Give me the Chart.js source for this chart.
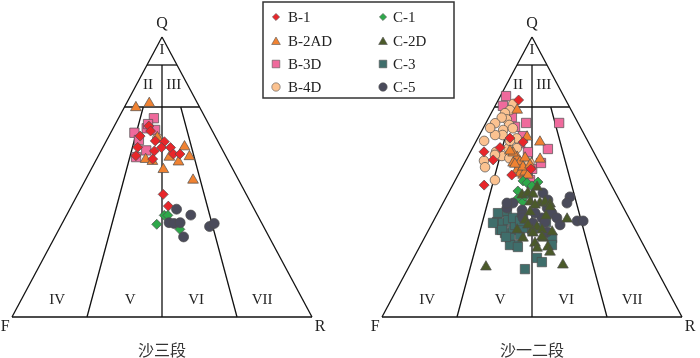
<!DOCTYPE html>
<html>
<head>
<meta charset="utf-8">
<script src="https://cdn.jsdelivr.net/npm/chart.js@4.4.1/dist/chart.umd.min.js"></script>
<style>
  html, body { margin: 0; padding: 0; background: #fff; }
  #wrap { width: 700px; height: 358px; }
</style>
</head>
<body>
<div id="wrap"><canvas id="qfr" width="700" height="358"></canvas></div>
<script>
// Ternary values, each point is [Q, R] in %, F = 100 - Q - R
// 沙三段 (left panel)
const B1_S3 = [[68.2,11.5],[66.4,13.0],[64.6,10.4],[60.6,11.6],[57.6,12.5],[62.9,16.3],[62.6,19.5],[60.5,19.6],[59.3,17.8],[60.5,22.6],[58.2,24.7],[58.2,26.9],[56.4,18.7],[43.8,28.5],[39.6,32.3]];
const B2AD_S3 = [[74.8,3.9],[76.3,7.6],[56.3,16.4],[55.6,19.0],[64.1,16.4],[57.1,23.9],[55.4,27.8],[60.8,27.1],[57.3,30.5],[52.7,24.1],[48.9,35.9]];
const B3D_S3 = [[71.0,11.8],[67.4,11.2],[66.8,14.3],[65.8,7.9],[63.2,10.7],[59.5,15.0],[57.1,12.8],[68.9,10.9]];
const B4D_S3 = [[63.9,16.5]];
const C1_S3 = [[36.3,32.6],[36.3,33.8],[33.1,31.7],[31.3,40.3]];
const C2D_S3 = [];
const C3_S3 = [];
const C5_S3 = [[38.5,35.6],[36.4,41.4],[33.7,35.5],[33.4,37.3],[33.7,39.2],[28.6,42.9],[32.3,49.7],[33.4,50.7]];

// 沙一二段 (right panel)
const B1_S12 = [[77.5,6.8],[60.5,9.1],[59.0,4.5],[56.1,9.0],[50.7,17.9],[47.1,10.5],[62.5,15.8],[52.9,23.2],[63.9,10.7]];
const B2AD_S12 = [[62.5,21.4],[64.3,16.2],[56.4,24.5],[73.9,8.1],[57.1,16.5],[55.0,16.2],[55.4,18.3],[56.8,19.3],[58.6,14.4],[50.7,21.7],[52.5,18.8],[59.3,13.0],[51.4,20.3],[51.8,21.8],[50.7,23.3],[53.6,20.2],[54.6,17.0],[54.3,22.2]];
const B3D_S12 = [[78.9,1.9],[75.4,2.6],[69.3,13.4],[69.3,24.4],[60.0,25.3],[58.9,19.2],[52.9,23.6],[55.0,25.5],[67.9,10.4],[62.1,15.0],[64.6,14.7],[71.4,7.6],[48.9,24.9]];
const B4D_S12 = [[76.1,5.7],[73.9,5.7],[72.8,4.6],[70.6,6.3],[71.2,4.3],[68.6,8.1],[69.2,3.1],[66.8,7.0],[67.4,9.9],[65.0,7.7],[65.0,5.2],[62.9,2.6],[59.0,8.5],[57.5,11.2],[60.3,12.0],[63.8,13.0],[60.3,14.8],[56.7,14.1],[55.8,6.1],[53.5,7.6],[53.5,19.0],[55.1,21.6],[48.9,13.2],[57.9,8.7],[62.9,11.2],[67.5,2.3]];
const C1_S12 = [[48.6,22.7],[47.9,24.4],[48.2,27.9],[45.0,22.8],[42.1,24.0],[41.1,26.5],[46.8,26.6],[43.2,26.1]];
const C2D_S12 = [[43.6,24.9],[44.3,26.5],[43.9,28.4],[46.4,28.5],[41.1,28.8],[40.7,32.3],[41.1,33.8],[40.4,35.8],[40.0,31.0],[39.3,36.4],[37.5,30.6],[35.0,44.2],[34.6,30.4],[32.1,35.6],[31.1,37.8],[31.1,34.5],[30.4,41.5],[28.2,39.6],[30.0,35.3],[28.2,32.9],[26.4,37.8],[28.6,39.0],[25.0,42.8],[23.2,44.4],[24.6,39.4],[31.1,29.5],[17.9,25.7],[18.6,51.0],[36.1,36.6],[32.9,32.2]];
const C3_S12 = [[37.5,22.9],[37.1,20.1],[33.9,21.4],[31.1,23.8],[30.0,26.0],[31.1,28.1],[28.2,28.6],[25.7,32.2],[33.6,23.5],[34.6,24.7],[32.9,27.9],[29.3,31.4],[31.8,31.1],[31.1,34.5],[31.8,36.1],[30.0,40.3],[28.2,42.6],[25.7,43.8],[21.1,41.1],[19.6,43.5],[17.1,39.1],[33.6,20.2],[25.7,29.8],[25.0,32.8],[31.1,24.5],[28.6,27.0],[35.4,26.0],[34.3,28.9],[33.9,37.7]];
const C5_S12 = [[44.3,31.5],[41.8,34.4],[38.9,35.6],[42.9,41.2],[40.7,41.3],[40.7,23.3],[38.9,22.2],[38.2,27.6],[36.4,28.5],[35.4,29.3],[37.1,38.1],[35.4,40.6],[35.4,35.6],[33.6,33.5],[33.9,37.4],[34.3,47.9],[34.3,49.9],[30.4,39.8],[37.1,32.5],[32.9,42.9],[40.7,21.3]];

const PANEL_TITLES = ['沙三段', '沙一二段'];
const ROMAN = ['I', 'II', 'III', 'IV', 'V', 'VI', 'VII'];
const CORNERS = ['Q', 'F', 'R'];

// Folk-style field boundaries, [Q, R] endpoints
const BOUNDARIES = [
    [[0, 0], [0, 100]],
    [[0, 100], [100, 0]],
    [[100, 0], [0, 0]],
    [[90, 0], [90, 10]],
    [[75, 0], [75, 25]],
    [[90, 5], [0, 50]],
    [[75, 6.25], [0, 25]],
    [[75, 18.75], [0, 75]]
];

// where the right triangle sits, in the same units as the left one
const PANEL_SHIFT = 123.333;

function tern(panel, q, r) {
    return { x: panel * PANEL_SHIFT + r + q / 2, y: q };
}

const series = [
    { label: 'B-1',   s3: B1_S3,   s12: B1_S12,   shape: 'rectRot',  r: 5.0, color: '#e8262a', col: 0, order: 4 },
    { label: 'B-2AD', s3: B2AD_S3, s12: B2AD_S12, shape: 'triangle', r: 6.2, color: '#f08232', col: 0, order: 5 },
    { label: 'B-3D',  s3: B3D_S3,  s12: B3D_S12,  shape: 'rect',     r: 6.6, color: '#ef6a9c', col: 0, order: 7 },
    { label: 'B-4D',  s3: B4D_S3,  s12: B4D_S12,  shape: 'circle',   r: 4.8, color: '#fbc290', col: 0, order: 6 },
    { label: 'C-1',   s3: C1_S3,   s12: C1_S12,   shape: 'rectRot',  r: 5.0, color: '#2ea84a', col: 1, order: 3 },
    { label: 'C-2D',  s3: C2D_S3,  s12: C2D_S12,  shape: 'triangle', r: 6.2, color: '#4b5a2a', col: 1, order: 0 },
    { label: 'C-3',   s3: C3_S3,   s12: C3_S12,   shape: 'rect',     r: 6.6, color: '#3f6e6b', col: 1, order: 2 },
    { label: 'C-5',   s3: C5_S3,   s12: C5_S12,   shape: 'circle',   r: 5.0, color: '#4a4b5b', col: 1, order: 1 }
];

const datasets = [];

[0, 1].forEach(panel => {
    BOUNDARIES.forEach(seg => {
        datasets.push({
            data: seg.map(p => tern(panel, p[0], p[1])),
            showLine: true,
            borderColor: '#111',
            borderWidth: 1.3,
            pointRadius: 0,
            order: 10
        });
    });
});

series.forEach(s => {
    datasets.push({
        label: s.label,
        data: s.s3.map(p => tern(0, p[0], p[1])).concat(s.s12.map(p => tern(1, p[0], p[1]))),
        pointStyle: s.shape,
        pointRadius: s.r,
        backgroundColor: s.color,
        borderColor: '#4d4d4d',
        borderWidth: 0.7,
        order: s.order
    });
});

function drawMarker(ctx, shape, x, y, r, fill) {
    ctx.beginPath();
    if (shape === 'circle') {
        ctx.arc(x, y, r, 0, Math.PI * 2);
    } else if (shape === 'rect') {
        ctx.rect(x - r, y - r, 2 * r, 2 * r);
    } else if (shape === 'rectRot') {
        ctx.moveTo(x - r, y); ctx.lineTo(x, y - r); ctx.lineTo(x + r, y); ctx.lineTo(x, y + r);
        ctx.closePath();
    } else {
        const h = r * 0.866;
        ctx.moveTo(x, y - r); ctx.lineTo(x + h, y + r / 2); ctx.lineTo(x - h, y + r / 2);
        ctx.closePath();
    }
    ctx.fillStyle = fill;
    ctx.fill();
    ctx.lineWidth = 0.6;
    ctx.strokeStyle = '#555';
    ctx.stroke();
}

const decor = {
    id: 'decor',
    beforeDatasetsDraw(chart) {
        const ctx = chart.ctx;
        const xs = chart.scales.x, ys = chart.scales.y;
        const px = (panel, q, r) => {
            const t = tern(panel, q, r);
            return [xs.getPixelForValue(t.x), ys.getPixelForValue(t.y)];
        };
        ctx.save();
        ctx.fillStyle = '#222';
        ctx.textAlign = 'center';
        ctx.textBaseline = 'middle';
        [0, 1].forEach(panel => {
            ctx.font = '15px "Liberation Serif", serif';
            const spots = [[95.5, 2.25], [82.9, 3.9], [82.9, 12.5], [6.1, 12], [6.1, 36.3], [6.1, 58.3], [6.1, 80.3]];
            spots.forEach((s, i) => {
                const [x, y] = px(panel, s[0], s[1]);
                ctx.fillText(ROMAN[i], x, y);
            });
            ctx.font = '16px "Liberation Serif", serif';
            let p = px(panel, 104.6, -2.3);
            ctx.fillText(CORNERS[0], p[0], p[1]);
            p = px(panel, -3.6, -0.5);
            ctx.fillText(CORNERS[1], p[0], p[1]);
            p = px(panel, -3.6, 104.5);
            ctx.fillText(CORNERS[2], p[0], p[1]);
            ctx.font = '16px "Noto Sans CJK SC", sans-serif';
            ctx.fillStyle = '#333';
            p = px(panel, -11.8, 55.9);
            ctx.fillText(PANEL_TITLES[panel], p[0], p[1]);
            ctx.fillStyle = '#222';
        });
        ctx.restore();
    },
    afterDatasetsDraw(chart) {
        const ctx = chart.ctx;
        ctx.save();
        ctx.fillStyle = '#fff';
        ctx.fillRect(263, 2, 191, 96);
        ctx.lineWidth = 1.5;
        ctx.strokeStyle = '#333';
        ctx.strokeRect(263, 2, 191, 96);
        ctx.font = '15px "Liberation Serif", serif';
        ctx.textAlign = 'left';
        ctx.textBaseline = 'middle';
        const rowY = [17, 41, 64, 87];
        const legR = { rectRot: 3.6, triangle: 5, rect: 3.8, circle: 4.2 };
        series.forEach((s, i) => {
            const row = i % 4;
            const mx = s.col === 0 ? 276 : 383;
            const tx = s.col === 0 ? 288 : 393;
            drawMarker(ctx, s.shape, mx, rowY[row] + (s.shape === 'triangle' ? 1 : 0), legR[s.shape], s.color);
            ctx.fillStyle = '#222';
            ctx.fillText(s.label, tx, rowY[row] + 1);
        });
        ctx.restore();
    }
};

new Chart(document.getElementById('qfr'), {
    type: 'scatter',
    data: { datasets: datasets },
    options: {
        responsive: false,
        animation: false,
        devicePixelRatio: 1,
        layout: { padding: 0, autoPadding: false },
        plugins: { legend: { display: false }, tooltip: { enabled: false } },
        scales: {
            x: { type: 'linear', min: -4, max: 229.333, display: false },
            y: { type: 'linear', min: -14.643, max: 113.214, display: false }
        }
    },
    plugins: [decor]
});
</script>
</body>
</html>
